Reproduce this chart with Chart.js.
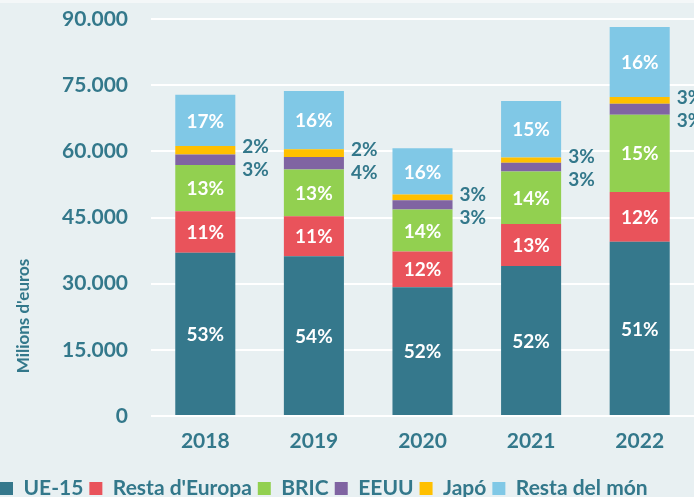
<!DOCTYPE html>
<html>
<head>
<meta charset="utf-8">
<script src="https://cdn.jsdelivr.net/npm/chart.js@4/dist/chart.umd.min.js"></script>
<style>
  html, body { margin: 0; padding: 0; overflow: hidden; background: #e8f0f2; width: 694px; height: 497px; }
  #wrap { position: absolute; left: -6px; top: 0; width: 700px; height: 509px; }
</style>
</head>
<body>
<div id="wrap"><canvas id="c" width="700" height="509"></canvas></div>
<script>
const years = ['2018', '2019', '2020', '2021', '2022'];
const seriesNames = ['UE-15', "Resta d'Europa", 'BRIC', 'EEUU', 'Japó', 'Resta del món'];
const ue15 = [37000, 36200, 29200, 34000, 39500];
const restaEuropa = [9400, 9100, 8100, 9500, 11300];
const bric = [10500, 10600, 9500, 11900, 17500];
const eeuu = [2400, 2800, 2100, 2000, 2500];
const japo = [1900, 1800, 1300, 1200, 1500];
const restaMon = [11600, 13200, 10500, 12800, 15900];
const pctUe15 = ['53%', '54%', '52%', '52%', '51%'];
const pctRestaEuropa = ['11%', '11%', '12%', '13%', '12%'];
const pctBric = ['13%', '13%', '14%', '14%', '15%'];
const pctEeuu = ['3%', '4%', '3%', '3%', '3%'];
const pctJapo = ['2%', '2%', '3%', '3%', '3%'];
const pctRestaMon = ['17%', '16%', '16%', '15%', '16%'];
const yTicks = [0, 15000, 30000, 45000, 60000, 75000, 90000];

const TEAL = '#33788b';
const colors = ['#35788c', '#e9535b', '#92d050', '#8064a2', '#ffc000', '#80c8e6'];
const values = [ue15, restaEuropa, bric, eeuu, japo, restaMon];
const pcts = [pctUe15, pctRestaEuropa, pctBric, pctEeuu, pctJapo, pctRestaMon];
const SHIFT = 6;

function fmt(v) { return String(v).replace(/\B(?=(\d{3})+(?!\d))/g, '.'); }

const bgPlugin = {
  id: 'bg',
  beforeDraw(chart) {
    const ctx = chart.ctx;
    ctx.save();
    ctx.fillStyle = '#e8f0f2';
    ctx.fillRect(0, 0, chart.width, chart.height);
    ctx.fillStyle = '#f4f7f8';
    ctx.fillRect(0, 0, chart.width, 3);
    ctx.restore();
  }
};

const labelPlugin = {
  id: 'segLabels',
  afterDatasetsDraw(chart) {
    const ctx = chart.ctx;
    ctx.save();
    ctx.font = 'bold 19px Lato';
    ctx.textBaseline = 'middle';
    const metaJ = chart.getDatasetMeta(4);
    chart.data.datasets.forEach((ds, di) => {
      const meta = chart.getDatasetMeta(di);
      meta.data.forEach((el, i) => {
        const p = el.getProps(['x', 'y', 'base', 'width'], true);
        const cy = (p.y + p.base) / 2;
        if (di === 3 || di === 4) {
          const j = metaJ.data[i].getProps(['y', 'base'], true);
          const jc = (j.y + j.base) / 2;
          ctx.fillStyle = TEAL;
          ctx.textAlign = 'left';
          const ly = di === 4 ? jc - 3 : jc + 20;
          ctx.fillText(pcts[di][i], p.x + p.width / 2 + 7, ly);
        } else {
          ctx.fillStyle = '#ffffff';
          ctx.textAlign = 'center';
          ctx.fillText(pcts[di][i], p.x, cy + 1);
        }
      });
    });
    // axis title
    const ca = chart.chartArea;
    ctx.translate(24 + SHIFT, ca.bottom - 100);
    ctx.rotate(-Math.PI / 2);
    ctx.font = 'bold 17px Lato';
    ctx.fillStyle = TEAL;
    ctx.textAlign = 'center';
    ctx.fillText("Milions d'euros", 0, 0);
    ctx.restore();
  }
};

new Chart(document.getElementById('c'), {
  type: 'bar',
  data: {
    labels: years,
    datasets: seriesNames.map((n, i) => ({
      label: n,
      data: values[i],
      backgroundColor: colors[i],
      borderWidth: 0,
      categoryPercentage: 1,
      barPercentage: 0.553
    }))
  },
  options: {
    responsive: false,
    animation: false,
    layout: { padding: { top: 19, right: 0, left: 0, bottom: 0 } },
    plugins: {
      legend: {
        position: 'bottom',
        align: 'start',
        labels: {
          boxWidth: 13,
          boxHeight: 13,
          padding: 6,
          color: TEAL,
          font: { family: 'Lato', size: 21, weight: 'bold' }
        }
      },
      tooltip: { enabled: false },
      title: { display: false }
    },
    scales: {
      x: {
        stacked: true,
        grid: { display: false, drawTicks: false },
        border: { display: false },
        ticks: { color: TEAL, padding: 13, font: { family: 'Lato', size: 21, weight: 'bold' } },
        afterFit(s) { s.height = 56; }
      },
      y: {
        stacked: true,
        min: 0,
        max: 90000,
        afterBuildTicks(s) { s.ticks = yTicks.map(v => ({ value: v })); },
        grid: { color: '#ffffff', lineWidth: 2, drawTicks: true, tickLength: 23, tickColor: 'rgba(0,0,0,0)' },
        border: { display: false },
        ticks: {
          color: TEAL,
          padding: 0,
          font: { family: 'Lato', size: 21, weight: 'bold' },
          callback: v => fmt(v)
        },
        afterFit(s) { s.width = 151 + SHIFT; }
      }
    }
  },
  plugins: [bgPlugin, labelPlugin]
});
</script>
</body>
</html>
